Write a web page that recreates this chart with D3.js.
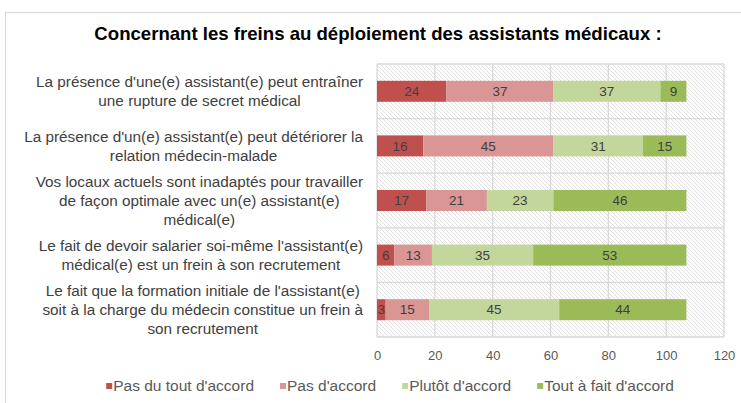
<!DOCTYPE html>
<meta charset="UTF-8">
<style>
	body { margin: 0; background: #fff; }
	svg { display: block; font-family: "Liberation Sans", Arial, sans-serif; }
	.grid line { stroke: #d9d9d9; stroke-width: 1.3px; }
	.axis text { fill: #595959; font-size: 13px; }
	.cat text { fill: #404040; font-size: 15.3px; }
	.legend text { fill: #595959; font-size: 15.5px; }
</style>
<body>
<script src="https://cdn.jsdelivr.net/npm/d3@7"></script>
<script>

	// categories (lines are split the way the reference wraps them)
	const categories = [
		["La présence d'une(e) assistant(e) peut entraîner", "une rupture de secret médical"],
		["La présence d'un(e) assistant(e) peut détériorer la", "relation médecin-malade"],
		["Vos locaux actuels sont inadaptés pour travailler", "de façon optimale avec un(e) assistant(e)", "médical(e)"],
		["Le fait de devoir salarier soi-même l'assistant(e)", "médical(e) est un frein à son recrutement"],
		["Le fait que la formation initiale de l'assistant(e)", "soit à la charge du médecin constitue un frein à", "son recrutement"]
	];

	const seriesNames = ["Pas du tout d'accord", "Pas d'accord", "Plutôt d'accord", "Tout à fait d'accord"];
	const seriesColors = ["#c0504d", "#d99694", "#c3d69b", "#9bbb59"];

	const pasDuTout = [24, 16, 17, 6, 3];
	const pasDaccord = [37, 45, 21, 13, 15];
	const plutot = [37, 31, 23, 35, 45];
	const toutAFait = [9, 15, 46, 53, 44];

	const xTicks = [0, 20, 40, 60, 80, 100, 120];

	const title = "Concernant les freins au déploiement des assistants médicaux :";

	// table for d3.stack
	const rows = categories.map((c, i) => ({
		key: i,
		[seriesNames[0]]: pasDuTout[i],
		[seriesNames[1]]: pasDaccord[i],
		[seriesNames[2]]: plutot[i],
		[seriesNames[3]]: toutAFait[i]
	}));

	const W = 741, H = 403;
	const plot = { left: 377, right: 724, top: 64, bottom: 337 };

	const svg = d3.select("body").append("svg")
		.attr("width", W)
		.attr("height", H);

	// hatch pattern for the plot background
	const defs = svg.append("defs");
	const pat = defs.append("pattern")
		.attr("id", "hatch")
		.attr("patternUnits", "userSpaceOnUse")
		.attr("width", 4)
		.attr("height", 4);
	pat.append("rect").attr("width", 4).attr("height", 4).attr("fill", "#fff");
	pat.append("path")
		.attr("d", "M-1,-1 L5,5 M-1,3 L1,5 M3,-1 L5,1")
		.attr("stroke", "#dcdcdc")
		.attr("stroke-width", 0.9);

	// chart frame
	svg.append("rect")
		.attr("x", 5.5).attr("y", 12.5)
		.attr("width", W).attr("height", H)
		.attr("fill", "none")
		.attr("stroke", "#d9d9d9");

	svg.append("text")
		.attr("x", 378).attr("y", 40)
		.attr("text-anchor", "middle")
		.attr("font-size", 18.6)
		.attr("font-weight", "bold")
		.attr("fill", "#000")
		.text(title);

	const x = d3.scaleLinear().domain([0, 120]).range([plot.left, plot.right]);
	const y = d3.scaleBand()
		.domain(d3.range(categories.length))
		.range([plot.top, plot.bottom])
		.paddingInner(0.615)
		.paddingOuter(0.3075);

	svg.append("rect")
		.attr("x", plot.left).attr("y", plot.top)
		.attr("width", plot.right - plot.left)
		.attr("height", plot.bottom - plot.top)
		.attr("fill", "url(#hatch)");

	const grid = svg.append("g").attr("class", "grid");
	grid.selectAll("line.v")
		.data(xTicks)
		.join("line")
		.attr("class", "v")
		.attr("x1", d => x(d)).attr("x2", d => x(d))
		.attr("y1", plot.top).attr("y2", plot.bottom);
	grid.selectAll("line.h")
		.data(d3.range(categories.length + 1))
		.join("line")
		.attr("class", "h")
		.attr("x1", plot.left).attr("x2", plot.right)
		.attr("y1", i => plot.top + i * y.step())
		.attr("y2", i => plot.top + i * y.step());

	const stacked = d3.stack().keys(seriesNames)(rows);

	const layers = svg.append("g").selectAll("g")
		.data(stacked)
		.join("g")
		.attr("fill", (d, i) => seriesColors[i]);

	layers.selectAll("rect")
		.data(d => d)
		.join("rect")
		.attr("x", d => x(d[0]))
		.attr("y", d => y(d.data.key))
		.attr("width", d => x(d[1]) - x(d[0]))
		.attr("height", y.bandwidth());

	layers.selectAll("text")
		.data(d => d.map(v => ({ v, val: v[1] - v[0] })))
		.join("text")
		.attr("x", d => (x(d.v[0]) + x(d.v[1])) / 2)
		.attr("y", d => y(d.v.data.key) + y.bandwidth() / 2)
		.attr("dy", "0.35em")
		.attr("text-anchor", "middle")
		.attr("font-size", 13.5)
		.attr("fill", "#404040")
		.text(d => d.val);

	// x axis
	const axis = svg.append("g")
		.attr("class", "axis")
		.attr("transform", `translate(0,${plot.bottom})`)
		.call(d3.axisBottom(x).tickValues(xTicks).tickSize(0).tickPadding(13.5));
	axis.select(".domain").remove();
	axis.selectAll("text").attr("font-family", null).attr("font-size", null);

	// category labels, block right-aligned, lines centred in block
	const labelRight = 363, lineH = 19;
	const cat = svg.append("g").attr("class", "cat");
	categories.forEach((lines, i) => {
		const g = cat.append("g");
		const cy = y(i) + y.bandwidth() / 2;
		const texts = lines.map((ln, j) => g.append("text")
			.attr("text-anchor", "middle")
			.attr("y", cy + (j - (lines.length - 1) / 2) * lineH)
			.attr("dy", "0.35em")
			.text(ln));
		const maxW = d3.max(texts, t => t.node().getComputedTextLength());
		texts.forEach(t => t.attr("x", labelRight - maxW / 2));
	});

	// legend
	const legend = svg.append("g").attr("class", "legend");
	const items = seriesNames.map((name, i) => {
		const g = legend.append("g");
		g.append("rect").attr("width", 6).attr("height", 6).attr("y", -3).attr("fill", seriesColors[i]);
		const t = g.append("text").attr("x", 7).attr("dy", "0.35em").text(name);
		return { g, w: 7 + t.node().getComputedTextLength() };
	});
	const gap = 26;
	const total = d3.sum(items, d => d.w) + gap * (items.length - 1);
	let lx = 390 - total / 2;
	items.forEach(it => {
		it.g.attr("transform", `translate(${lx},386)`);
		lx += it.w + gap;
	});

</script>
</body>
